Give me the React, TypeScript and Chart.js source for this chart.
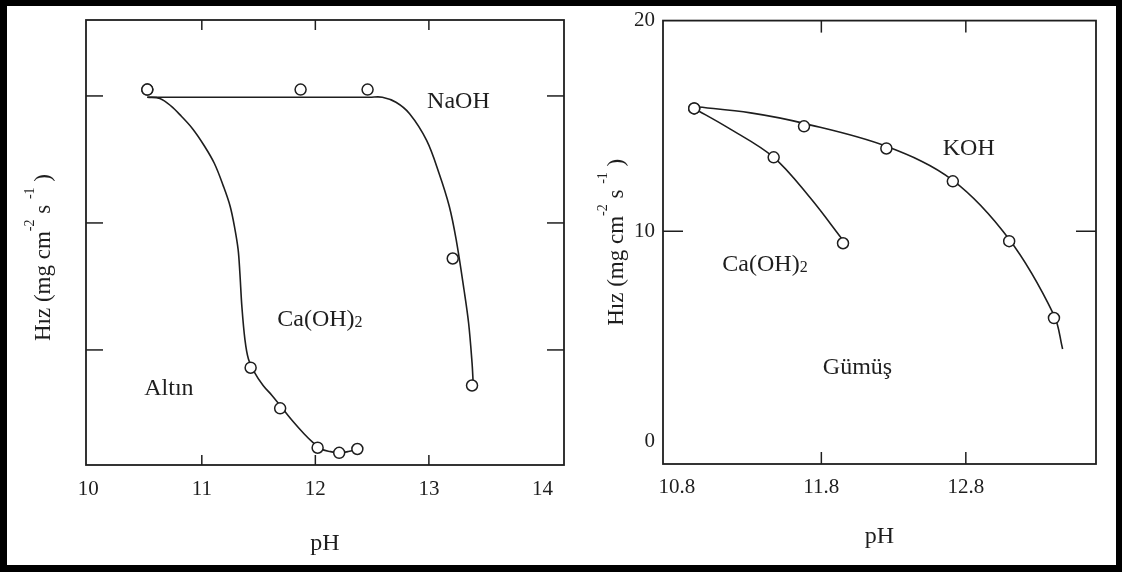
import React, { useEffect, useRef } from 'react';
import { Chart, registerables } from 'chart.js';

Chart.register(...registerables);

const FONT = "'Liberation Serif', 'Times New Roman', 'DejaVu Serif', serif";
const INK = '#1e1e1e';

// ---------- Left panel: Altın (gold) ----------
const goldPhTicks = [10, 11, 12, 13, 14];
const goldRateTicks = [1, 2, 3]; // unlabeled tick marks

const goldNaOHPh = [10.52, 11.87, 12.46, 13.21, 13.38];
const goldNaOHRate = [3.05, 3.05, 3.05, 1.72, 0.72];
const goldCaPh = [10.52, 11.43, 11.69, 12.02, 12.21, 12.37];
const goldCaRate = [3.05, 0.86, 0.54, 0.23, 0.19, 0.22];

// fitted curves
const goldNaOHFitPh = [10.52, 11.86, 12.48, 12.59, 12.71, 12.83, 12.98, 13.09, 13.18, 13.24, 13.31, 13.35, 13.38, 13.39];
const goldNaOHFitRate = [2.99, 2.99, 2.99, 2.99, 2.95, 2.86, 2.65, 2.39, 2.13, 1.87, 1.47, 1.21, 0.9, 0.74];
const goldCaFitPh = [10.52, 10.63, 10.73, 10.82, 10.92, 11.02, 11.11, 11.19, 11.25, 11.29, 11.32, 11.335, 11.353, 11.38, 11.41, 11.46, 11.54, 11.62, 11.71, 11.8, 11.9, 11.98, 12.05, 12.13, 12.21, 12.29, 12.37];
const goldCaFitRate = [2.99, 2.98, 2.92, 2.84, 2.74, 2.61, 2.47, 2.29, 2.13, 1.96, 1.79, 1.61, 1.34, 1.08, 0.93, 0.83, 0.72, 0.64, 0.54, 0.44, 0.34, 0.27, 0.22, 0.2, 0.19, 0.2, 0.22];

// ---------- Right panel: Gümüş (silver) ----------
const silverPhTicks = [10.8, 11.8, 12.8];
const silverRateTicks = [0, 10, 20];

const silverKOHPh = [10.92, 11.68, 12.25, 12.71, 13.1, 13.41];
const silverKOHRate = [15.83, 14.98, 13.93, 12.37, 9.53, 5.88];
const silverCaPh = [10.92, 11.47, 11.95];
const silverCaRate = [15.83, 13.51, 9.43];

const silverKOHFitPh = [10.92, 11.31, 11.68, 12.25, 12.71, 13.1, 13.41, 13.47];
const silverKOHFitRate = [15.92, 15.62, 15.12, 14.03, 12.42, 9.62, 6.02, 4.41];
const silverCaFitPh = [10.92, 11.15, 11.47, 11.72, 11.95];
const silverCaFitRate = [15.83, 14.93, 13.51, 11.61, 9.57];

type Pt = { x: number; y: number };
const zip = (xs: number[], ys: number[]): Pt[] => xs.map((x, i) => ({ x, y: ys[i] }));

type Note = { text: string; sub?: string; x: number; y: number };

const goldNotes: Note[] = [
  { text: 'NaOH', x: 13.26, y: 2.97 },
  { text: 'Ca(OH)', sub: '2', x: 12.04, y: 1.25 },
  { text: 'Altın', x: 10.71, y: 0.71 },
];
const silverNotes: Note[] = [
  { text: 'KOH', x: 12.82, y: 13.98 },
  { text: 'Ca(OH)', sub: '2', x: 11.41, y: 8.48 },
  { text: 'Gümüş', x: 12.05, y: 3.6 },
];

function drawNote(ctx: CanvasRenderingContext2D, n: Note, xs: any, ys: any) {
  const cx = xs.getPixelForValue(n.x);
  const cy = ys.getPixelForValue(n.y);
  const big = `24px ${FONT}`;
  const small = `16px ${FONT}`;
  ctx.font = big;
  const w1 = ctx.measureText(n.text).width;
  let w2 = 0;
  if (n.sub) {
    ctx.font = small;
    w2 = ctx.measureText(n.sub).width;
  }
  const x0 = cx - (w1 + w2) / 2;
  const base = cy + 8;
  ctx.textAlign = 'left';
  ctx.textBaseline = 'alphabetic';
  ctx.fillStyle = INK;
  ctx.font = big;
  ctx.fillText(n.text, x0, base);
  if (n.sub) {
    ctx.font = small;
    ctx.fillText(n.sub, x0 + w1, base + 1);
  }
}

function drawYTitle(ctx: CanvasRenderingContext2D, baseX: number, centerY: number) {
  const big = `23px ${FONT}`;
  const small = `14px ${FONT}`;
  const parts = [
    { t: 'Hız (mg cm', f: big, dy: 0 },
    { t: '-2', f: small, dy: -16 },
    { t: ' s ', f: big, dy: 0 },
    { t: '-1', f: small, dy: -16 },
    { t: ' )', f: big, dy: 0 },
  ];
  let total = 0;
  const widths = parts.map((p) => {
    ctx.font = p.f;
    const w = ctx.measureText(p.t).width;
    total += w;
    return w;
  });
  ctx.save();
  ctx.translate(baseX, centerY + total / 2);
  ctx.rotate(-Math.PI / 2);
  ctx.textAlign = 'left';
  ctx.textBaseline = 'alphabetic';
  ctx.fillStyle = INK;
  let x = 0;
  parts.forEach((p, i) => {
    ctx.font = p.f;
    ctx.fillText(p.t, x, p.dy);
    x += widths[i];
  });
  ctx.restore();
}

const paperPlugin = {
  id: 'paperFrame',
  afterDatasetsDraw(chart: any, _args: any, opts: any) {
    const { ctx, chartArea: a, scales } = chart;
    const xs = scales.x;
    const ys = scales.y;
    ctx.save();
    ctx.strokeStyle = INK;
    ctx.lineWidth = 1.5;
    const seg = (x1: number, y1: number, x2: number, y2: number) => {
      ctx.beginPath();
      ctx.moveTo(x1, y1);
      ctx.lineTo(x2, y2);
      ctx.stroke();
    };
    for (const v of opts.xTicks || []) {
      const px = xs.getPixelForValue(v);
      seg(px, a.bottom, px, a.bottom - opts.xTickLen);
      seg(px, a.top, px, a.top + opts.xTickLen);
    }
    for (const v of opts.yTicks || []) {
      const py = ys.getPixelForValue(v);
      seg(a.left, py, a.left + opts.yTickLen, py);
      seg(a.right, py, a.right - opts.yTickLen, py);
    }
    ctx.lineWidth = 1.8;
    ctx.strokeRect(a.left, a.top, a.right - a.left, a.bottom - a.top);
    for (const n of opts.notes || []) drawNote(ctx, n, xs, ys);
    drawYTitle(ctx, a.left + opts.titleDx, (a.top + a.bottom) / 2 + opts.titleDy);
    ctx.restore();
  },
};

const pointStyle = {
  showLine: false,
  pointRadius: 5.5,
  pointHoverRadius: 5.5,
  pointBorderWidth: 1.5,
  pointBackgroundColor: '#ffffff',
  pointBorderColor: INK,
  order: 0,
};
const curveStyle = {
  showLine: true,
  pointRadius: 0,
  borderColor: INK,
  borderWidth: 1.6,
  tension: 0.35,
  fill: false,
  order: 1,
};

function makeConfig(p: {
  datasets: any[];
  xMin: number; xMax: number; xTicks: number[];
  yMin: number; yMax: number; yTicks: number[];
  showY: boolean;
  padding: any;
  yWidth: number; xHeight: number;
  xLabelPad: number; titlePadBottom: number;
  frame: any;
}) {
  return {
    type: 'scatter' as const,
    data: { datasets: p.datasets },
    plugins: [paperPlugin],
    options: {
      animation: false as const,
      responsive: false,
      devicePixelRatio: 1,
      events: [],
      layout: { padding: p.padding },
      plugins: {
        legend: { display: false },
        tooltip: { enabled: false },
        paperFrame: p.frame,
      },
      scales: {
        x: {
          type: 'linear' as const,
          min: p.xMin,
          max: p.xMax,
          afterBuildTicks: (s: any) => {
            s.ticks = p.xTicks.map((value) => ({ value }));
          },
          afterFit: (s: any) => {
            s.height = p.xHeight;
          },
          grid: { display: false, drawTicks: false },
          border: { display: false },
          ticks: {
            autoSkip: false,
            maxRotation: 0,
            padding: p.xLabelPad,
            color: INK,
            font: { family: FONT, size: 21 },
            callback: (v: any) => String(v),
          },
          title: {
            display: true,
            text: 'pH',
            color: INK,
            font: { family: FONT, size: 24 },
            padding: { top: 0, bottom: p.titlePadBottom },
          },
        },
        y: {
          type: 'linear' as const,
          min: p.yMin,
          max: p.yMax,
          afterBuildTicks: (s: any) => {
            s.ticks = p.yTicks.map((value) => ({ value }));
          },
          afterFit: (s: any) => {
            s.width = p.yWidth;
          },
          grid: { display: false, drawTicks: false },
          border: { display: false },
          ticks: {
            display: p.showY,
            padding: 8,
            color: INK,
            font: { family: FONT, size: 21 },
            callback: (v: any) => String(v),
          },
        },
      },
    },
  };
}

export default function App() {
  const leftRef = useRef<HTMLCanvasElement | null>(null);
  const rightRef = useRef<HTMLCanvasElement | null>(null);

  useEffect(() => {
    if (!leftRef.current || !rightRef.current) return;
    Chart.defaults.font.family = FONT;
    Chart.defaults.color = INK;

    const left = new Chart(
      leftRef.current,
      makeConfig({
        datasets: [
          { label: 'NaOH', data: zip(goldNaOHPh, goldNaOHRate), ...pointStyle },
          { label: 'Ca(OH)2', data: zip(goldCaPh, goldCaRate), ...pointStyle },
          { label: 'NaOH fit', data: zip(goldNaOHFitPh, goldNaOHFitRate), ...curveStyle },
          { label: 'Ca(OH)2 fit', data: zip(goldCaFitPh, goldCaFitRate), ...curveStyle },
        ],
        xMin: 9.98,
        xMax: 14.19,
        xTicks: goldPhTicks,
        yMin: 0.094,
        yMax: 3.598,
        yTicks: goldRateTicks,
        showY: false,
        padding: { left: 0, top: 20, right: 1122 - 564, bottom: 0 },
        yWidth: 86,
        xHeight: 107,
        xLabelPad: 12,
        titlePadBottom: 14,
        frame: {
          xTicks: [11, 12, 13],
          xTickLen: 10,
          yTicks: goldRateTicks,
          yTickLen: 17,
          notes: goldNotes,
          titleDx: -36,
          titleDy: 15,
        },
      }) as any
    );

    const right = new Chart(
      rightRef.current,
      makeConfig({
        datasets: [
          { label: 'KOH', data: zip(silverKOHPh, silverKOHRate), ...pointStyle },
          { label: 'Ca(OH)2', data: zip(silverCaPh, silverCaRate), ...pointStyle },
          { label: 'KOH fit', data: zip(silverKOHFitPh, silverKOHFitRate), ...curveStyle },
          { label: 'Ca(OH)2 fit', data: zip(silverCaFitPh, silverCaFitRate), ...curveStyle },
        ],
        xMin: 10.704,
        xMax: 13.701,
        xTicks: silverPhTicks,
        yMin: -1.05,
        yMax: 20,
        yTicks: silverRateTicks,
        showY: true,
        padding: { left: 561, top: 20, right: 26, bottom: 0 },
        yWidth: 102,
        xHeight: 108,
        xLabelPad: 11,
        titlePadBottom: 21,
        frame: {
          xTicks: [11.8, 12.8],
          xTickLen: 12,
          yTicks: [10],
          yTickLen: 20,
          notes: silverNotes,
          titleDx: -40,
          titleDy: 0,
        },
      }) as any
    );

    return () => {
      left.destroy();
      right.destroy();
    };
  }, []);

  const canvasStyle: React.CSSProperties = {
    position: 'absolute',
    left: 0,
    top: 0,
    width: 1122,
    height: 572,
  };

  return (
    <div
      style={{
        position: 'fixed',
        left: 0,
        top: 0,
        width: 1122,
        height: 572,
        background: '#ffffff',
        overflow: 'hidden',
      }}
    >
      <canvas ref={leftRef} width={1122} height={572} style={canvasStyle} />
      <canvas ref={rightRef} width={1122} height={572} style={canvasStyle} />
      <div
        style={{
          position: 'absolute',
          left: 0,
          top: 0,
          width: 1122,
          height: 572,
          boxSizing: 'border-box',
          borderStyle: 'solid',
          borderColor: '#000000',
          borderWidth: '6px 6px 7px 7px',
          pointerEvents: 'none',
        }}
      />
    </div>
  );
}
